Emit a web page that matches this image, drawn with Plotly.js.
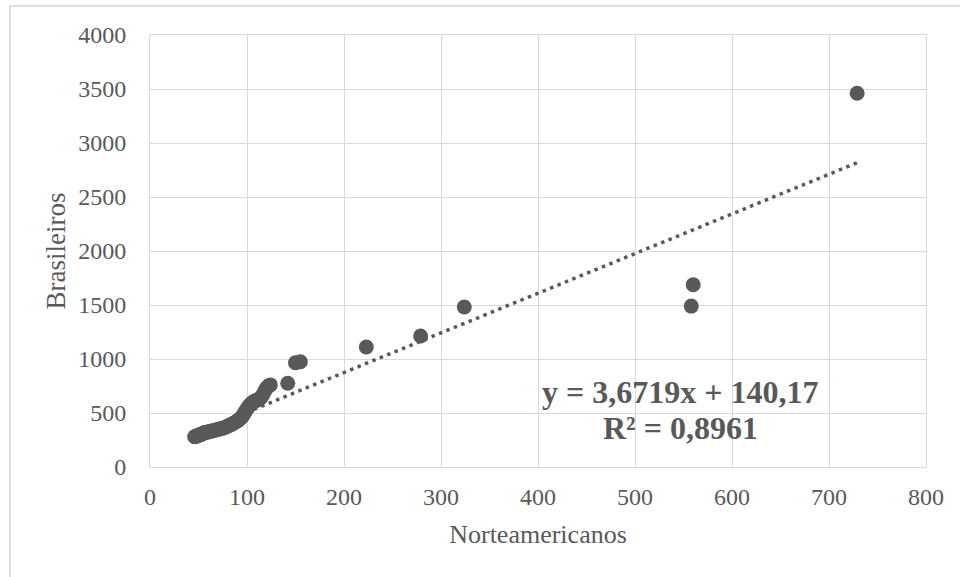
<!DOCTYPE html>
<html>
<head>
<meta charset="utf-8">
<script src="https://cdn.plot.ly/plotly-3.0.1.min.js"></script>
<style>
html,body{margin:0;padding:0;background:#fff;}
#frame{position:absolute;left:9px;top:5px;width:1000px;height:620px;border:2px solid #dedede;box-sizing:border-box;}
#chart{position:absolute;left:0;top:0;width:960px;height:577px;}
</style>
</head>
<body>
<div id="frame"></div>
<div id="chart"></div>
<script>
// Norteamericanos (x) vs Brasileiros (y)
const norteamericanos = [46,47,48,49,50,51,52,53,54,55,56,57,58,60,62,64,66,68,70,72,74,76,78,80,82,84,86,88,90,92,94,96,98,100,102,104,106,108,110,112,114,116,118,120,122,124,
  142,150,155,223,279,324,558,560,729];
const brasileiros = [280,283,287,290,294,297,300,304,309,313,317,320,322,325,330,334,338,342,348,352,357,362,370,378,386,395,405,415,426,440,456,480,510,540,565,585,600,610,618,625,640,665,700,730,750,760,
  775,965,975,1111,1213,1481,1490,1688,3460];
const slope = 3.6719, intercept = 140.17;
const eqLine = "y = 3,6719x + 140,17";
const r2Line = "R² = 0,8961";
const xTicks = [0,100,200,300,400,500,600,700,800];
const yTicks = [0,500,1000,1500,2000,2500,3000,3500,4000];

const xMin = Math.min(...norteamericanos), xMax = Math.max(...norteamericanos);
const grey = '#595959';
const font = 'Liberation Serif, Times New Roman, serif';

const traces = [
  {
    x: norteamericanos, y: brasileiros, type: 'scatter', mode: 'markers',
    marker: {color: grey, size: 15, line: {width: 0}},
    hoverinfo: 'x+y', showlegend: false
  },
  {
    x: [xMin, xMax], y: [slope*xMin+intercept, slope*xMax+intercept],
    type: 'scatter', mode: 'lines',
    line: {color: grey, width: 3.5, dash: '3.5px,4.5px'},
    showlegend: false, hoverinfo: 'skip'
  }
];

const layout = {
  width: 960, height: 577,
  margin: {l: 150, r: 34, t: 35, b: 110},
  paper_bgcolor: 'rgba(0,0,0,0)', plot_bgcolor: '#fff',
  font: {family: font, color: grey, size: 24},
  xaxis: {
    range: [0, 800], tickvals: xTicks, ticktext: xTicks.map(String),
    showgrid: true, gridcolor: '#d9d9d9', gridwidth: 1,
    zeroline: false, showline: true, mirror: true, linecolor: '#d9d9d9', linewidth: 1,
    ticks: '', ticklabelstandoff: 8,
    tickfont: {family: font, size: 24, color: grey},
    title: {text: 'Norteamericanos', font: {family: font, size: 26, color: grey}, standoff: 16}
  },
  yaxis: {
    range: [0, 4000], tickvals: yTicks, ticktext: yTicks.map(String),
    showgrid: true, gridcolor: '#d9d9d9', gridwidth: 1,
    zeroline: false, showline: true, mirror: true, linecolor: '#d9d9d9', linewidth: 1,
    ticks: '', ticklabelstandoff: 18,
    tickfont: {family: font, size: 24, color: grey},
    title: {text: 'Brasileiros', font: {family: font, size: 27, color: grey}, standoff: 4}
  },
  annotations: [
    {text: '<b>' + eqLine + '</b>', xref: 'paper', yref: 'paper', x: 0.683, y: 0.1736,
     xanchor: 'center', yanchor: 'middle', showarrow: false, font: {family: font, size: 32, color: grey}},
    {text: '<b>' + r2Line + '</b>', xref: 'paper', yref: 'paper', x: 0.683, y: 0.0903,
     xanchor: 'center', yanchor: 'middle', showarrow: false, font: {family: font, size: 32, color: grey}}
  ]
};

Plotly.newPlot('chart', traces, layout, {displayModeBar: false, staticPlot: true});
</script>
</body>
</html>
